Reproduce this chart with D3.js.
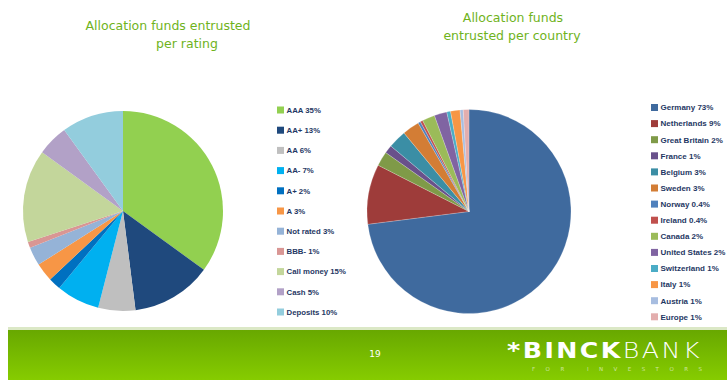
<!DOCTYPE html>
<html>
<head>
<meta charset="utf-8">
<script src="https://cdn.jsdelivr.net/npm/d3@7"></script>
<style>
  html, body { margin: 0; padding: 0; background: #ffffff; }
  svg { display: block; }
</style>
</head>
<body>
<svg id="chart" width="727" height="380"></svg>
<script>
// ---- Data ----
const ratingCategories = ["AAA", "AA+", "AA", "AA-", "A+", "A", "Not rated", "BBB-", "Call money", "Cash", "Deposits"];
const ratingValues = [35, 13, 6, 7, 2, 3, 3, 1, 15, 5, 10];
const ratingLabelPct = ["35%", "13%", "6%", "7%", "2%", "3%", "3%", "1%", "15%", "5%", "10%"];
const ratingColors = ["#92d050", "#1f497d", "#bfbfbf", "#00b0f0", "#0070c0", "#f79646", "#95b3d7", "#d99694", "#c3d69b", "#b2a1c7", "#93cddd"];

const countryCategories = ["Germany", "Netherlands", "Great Britain", "France", "Belgium", "Sweden", "Norway", "Ireland", "Canada", "United States", "Switzerland", "Italy", "Austria", "Europe"];
const countryValues = [73, 9.5, 2.3, 1.3, 2.9, 2.7, 0.4, 0.4, 2, 2, 0.6, 1.5, 0.5, 0.9];
const countryLabelPct = ["73%", "9%", "2%", "1%", "3%", "3%", "0.4%", "0.4%", "2%", "2%", "1%", "1%", "1%", "1%"];
const countryColors = ["#3f6a9e", "#9e3c3a", "#7f9a48", "#69518b", "#3b8ea5", "#d37d35", "#4f81bd", "#c0504d", "#9bbb59", "#8064a2", "#4bacc6", "#f79646", "#a7bde0", "#e3aeae"];

const titleLeft = ["Allocation funds entrusted", "per rating"];
const titleRight = ["Allocation funds", "entrusted per country"];

// ---- Drawing ----
const svg = d3.select("#chart");
const W = 727, H = 380;

svg.append("rect").attr("width", W).attr("height", H).attr("fill", "#ffffff");

const titleColor = "#6fb31c";
const titleFont = "'DejaVu Sans', sans-serif";

function drawTitle(lines, positions) {
  lines.forEach((t, i) => {
    svg.append("text")
      .attr("x", positions[i][0]).attr("y", positions[i][1])
      .attr("text-anchor", "middle")
      .attr("font-family", titleFont)
      .attr("font-size", 12.5)
      .attr("fill", titleColor)
      .text(t);
  });
}
drawTitle(titleLeft, [[168, 30], [187, 48]]);
drawTitle(titleRight, [[513, 22], [512, 40]]);

function drawPie(values, colors, cx, cy, r, strokeW) {
  const pie = d3.pie().sort(null).value(d => d);
  const arc = d3.arc().innerRadius(0).outerRadius(r);
  const g = svg.append("g").attr("transform", `translate(${cx},${cy})`);
  g.selectAll("path")
    .data(pie(values))
    .join("path")
    .attr("d", arc)
    .attr("fill", (d, i) => colors[i])
    .attr("stroke", strokeW > 0 ? "#ffffff" : "none")
    .attr("stroke-width", strokeW)
    .attr("stroke-opacity", 0.5);
}
drawPie(ratingValues, ratingColors, 123, 211, 100, 0);
drawPie(countryValues, countryColors, 469, 211.5, 102, 0.4);

function drawLegend(cats, pcts, colors, x, y0, step, fs) {
  const yScale = d3.scaleLinear().domain([0, 1]).range([y0, y0 + step]);
  const g = svg.append("g");
  const items = g.selectAll("g").data(cats).join("g")
    .attr("transform", (d, i) => `translate(${x},${yScale(i)})`);
  items.append("rect")
    .attr("x", 0).attr("y", -3.5).attr("width", 7).attr("height", 7)
    .attr("fill", (d, i) => colors[i]);
  items.append("text")
    .attr("x", 9.5).attr("y", 2.8)
    .attr("font-family", "'Liberation Sans', Arial, sans-serif")
    .attr("font-size", fs)
    .attr("font-weight", "bold")
    .attr("fill", "#1f3864")
    .text((d, i) => d + " " + pcts[i]);
}
drawLegend(ratingCategories, ratingLabelPct, ratingColors, 277, 110, 20.2, 7.8);
drawLegend(countryCategories, countryLabelPct, countryColors, 651, 107.5, 16.1, 8);

// ---- Footer ----
const defs = svg.append("defs");
const grad = defs.append("linearGradient").attr("id", "footGrad")
  .attr("x1", 0).attr("y1", 0).attr("x2", 0).attr("y2", 1);
grad.append("stop").attr("offset", "0%").attr("stop-color", "#68a800");
grad.append("stop").attr("offset", "100%").attr("stop-color", "#86cc00");

svg.append("rect").attr("x", 8).attr("y", 327).attr("width", W - 8).attr("height", 3)
  .attr("fill", "#dbe8c6");
svg.append("rect").attr("x", 8).attr("y", 330).attr("width", W - 8).attr("height", 50)
  .attr("fill", "url(#footGrad)");

svg.append("text")
  .attr("x", 375).attr("y", 356.5)
  .attr("text-anchor", "middle")
  .attr("font-family", "'DejaVu Sans', sans-serif")
  .attr("font-size", 9)
  .attr("fill", "#ffffff")
  .text("19");

const logo = svg.append("text")
  .attr("x", 507).attr("y", 358)
  .attr("font-family", "'DejaVu Sans', sans-serif")
  .attr("font-size", 20.5)
  .attr("letter-spacing", 2)
  .attr("fill", "#ffffff")
  .attr("textLength", 195)
  .attr("lengthAdjust", "spacingAndGlyphs");
logo.append("tspan").attr("font-weight", "bold").text("*BINCK");
logo.append("tspan").attr("style", "font-weight:200").text("BANK");

svg.append("text")
  .attr("x", 532).attr("y", 371)
  .attr("font-family", "'DejaVu Sans', sans-serif")
  .attr("font-size", 5.5)
  .attr("fill", "#ffffff")
  .attr("fill-opacity", 0.6)
  .attr("textLength", 170)
  .attr("lengthAdjust", "spacing")
  .text("FOR INVESTORS");
</script>
</body>
</html>
